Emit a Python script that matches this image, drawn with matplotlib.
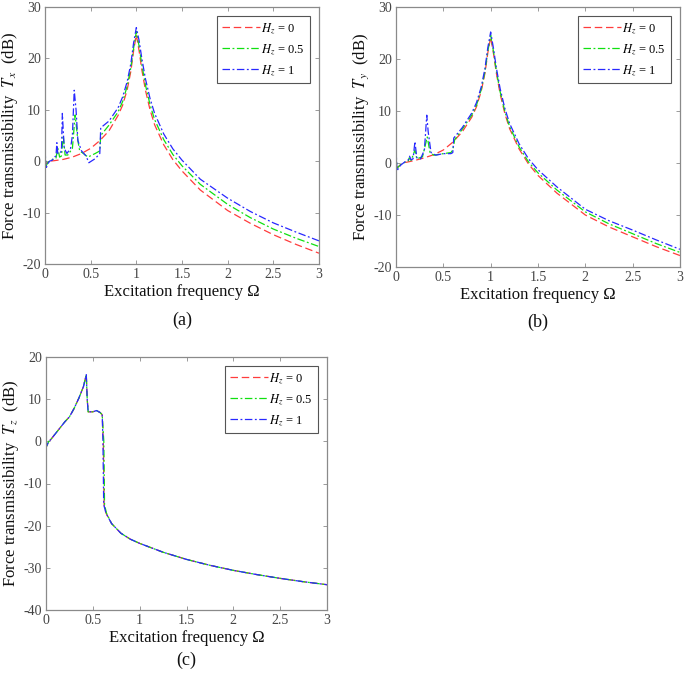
import matplotlib
matplotlib.use("Agg")
import matplotlib.pyplot as plt

plt.rcParams['font.family'] = ['Liberation Serif', 'DejaVu Serif']
plt.rcParams['mathtext.fontset'] = 'stix'

# ---------------- data: panel (a) Tx ----------------
ax_w0 = [0, 0.01, 0.05, 0.1, 0.2, 0.3, 0.4, 0.5, 0.6, 0.7, 0.8, 0.85, 0.9, 0.94, 0.97,
         1.0, 1.03, 1.06, 1.1, 1.15, 1.2, 1.3, 1.4, 1.5, 1.7, 2.0, 2.25, 2.5, 2.75, 3.0]
ax_h0 = [0.5, -0.5, 0.0, 0.1, 0.35, 0.8, 1.5, 2.5, 4.0, 5.9, 8.9, 10.9, 13.9, 17.5, 21.5,
         24.6, 21.5, 17.8, 13.8, 10.0, 7.1, 3.2, 0.3, -1.9, -5.6, -9.6, -12.1, -14.3, -16.2, -17.9]

ax_w05 = [0, 0.01, 0.03, 0.05, 0.1, 0.12, 0.14, 0.16, 0.18, 0.2, 0.22, 0.25, 0.3, 0.33, 0.36,
          0.38, 0.42, 0.47, 0.55, 0.6, 0.61, 0.7, 0.8, 0.85, 0.9, 0.94, 0.97, 1.0, 1.03, 1.06,
          1.1, 1.15, 1.2, 1.3, 1.4, 1.5, 1.7, 2.0, 2.25, 2.5, 2.75, 3.0]
ax_h05 = [2.0, -1.0, -0.3, 0.0, 0.5, 0.6, 2.5, 0.8, 1.0, 5.0, 1.2, 1.2, 2.5, 9.0, 4.0,
          2.0, 1.5, 0.8, 1.5, 2.0, 5.0, 7.0, 9.6, 11.6, 14.6, 18.2, 22.0, 25.2, 22.4, 18.8,
          14.8, 11.0, 8.1, 4.2, 1.3, -0.9, -4.5, -8.4, -11.0, -13.2, -15.0, -16.6]

ax_w1 = [0, 0.01, 0.03, 0.05, 0.08, 0.1, 0.12, 0.13, 0.14, 0.16, 0.18, 0.19, 0.21, 0.24, 0.28,
         0.3, 0.32, 0.34, 0.36, 0.4, 0.45, 0.48, 0.55, 0.6, 0.61, 0.7, 0.8, 0.85, 0.9, 0.94,
         0.97, 1.0, 1.03, 1.06, 1.1, 1.15, 1.2, 1.3, 1.4, 1.5, 1.7, 2.0, 2.25, 2.5, 2.75, 3.0]
ax_h1 = [3.0, -1.5, -0.5, 0.0, 0.2, 0.8, 1.0, 3.6, 1.5, 1.5, 2.0, 9.3, 2.5, 1.5, 2.5,
         5.0, 13.8, 10.0, 4.0, 2.0, 1.0, -0.3, 0.5, 1.5, 6.5, 7.8, 10.4, 12.5, 15.5, 19.0,
         23.0, 26.0, 23.5, 20.0, 16.0, 12.2, 9.3, 5.3, 2.4, 0.2, -3.5, -7.2, -9.8, -12.0, -13.8, -15.5]

# ---------------- data: panel (b) Ty ----------------
by_w0 = [0, 0.02, 0.05, 0.1, 0.2, 0.3, 0.4, 0.5, 0.6, 0.7, 0.8, 0.85, 0.9, 0.94, 0.97,
         1.0, 1.03, 1.06, 1.1, 1.15, 1.2, 1.3, 1.4, 1.5, 1.7, 2.0, 2.25, 2.5, 2.75, 3.0]
by_h0 = [-0.5, -0.8, -0.3, 0.1, 0.5, 1.0, 1.6, 2.5, 4.0, 6.0, 8.8, 10.8, 13.8, 17.3, 21.2,
         24.2, 21.0, 17.3, 13.3, 9.5, 6.6, 2.7, -0.2, -2.4, -5.8, -10.0, -12.3, -14.2, -16.1, -17.8]

by_w05 = [0, 0.01, 0.05, 0.1, 0.13, 0.14, 0.16, 0.2, 0.22, 0.28, 0.33, 0.36, 0.4, 0.5, 0.58,
          0.6, 0.62, 0.7, 0.8, 0.85, 0.9, 0.94, 0.97, 1.0, 1.03, 1.06, 1.1, 1.15, 1.2, 1.3,
          1.4, 1.5, 1.7, 2.0, 2.25, 2.5, 2.75, 3.0]
by_h05 = [2.0, -1.0, -0.3, 0.2, 0.4, 1.0, 0.5, 2.5, 0.8, 1.2, 5.0, 2.0, 1.5, 1.8, 2.0,
          2.5, 4.5, 6.5, 9.2, 11.1, 14.1, 17.6, 21.5, 24.6, 21.4, 17.7, 13.7, 9.9, 7.0, 3.1,
          0.2, -1.9, -5.2, -9.4, -11.7, -13.6, -15.5, -17.2]

by_w1 = [0, 0.01, 0.05, 0.1, 0.13, 0.143, 0.16, 0.18, 0.2, 0.22, 0.26, 0.3, 0.325, 0.34, 0.37,
         0.42, 0.5, 0.58, 0.6, 0.61, 0.7, 0.8, 0.85, 0.9, 0.94, 0.97, 1.0, 1.03, 1.06, 1.1,
         1.15, 1.2, 1.3, 1.4, 1.5, 1.7, 2.0, 2.25, 2.5, 2.75, 3.0]
by_h1 = [3.0, -1.5, -0.4, 0.3, 0.6, 1.3, 0.6, 0.8, 4.1, 1.0, 0.8, 2.5, 9.2, 6.0, 2.0,
         1.5, 1.8, 1.8, 2.0, 4.8, 6.8, 9.6, 11.6, 14.6, 18.2, 22.2, 25.2, 22.0, 18.3, 14.3,
         10.5, 7.6, 3.7, 0.8, -1.3, -4.6, -8.9, -11.1, -12.9, -14.8, -16.6]

# ---------------- data: panel (c) Tz ----------------
cz_w0 = [0, 0.005, 0.03, 0.05, 0.1, 0.15, 0.2, 0.25, 0.3, 0.35, 0.4, 0.43, 0.44, 0.45, 0.5,
         0.54, 0.58, 0.6, 0.612, 0.62, 0.64, 0.7, 0.8, 0.9, 1.0, 1.25, 1.5, 1.75, 2.0, 2.25,
         2.5, 2.75, 3.0]
cz_h0 = [2.5, -1.2, 0.0, 0.4, 1.8, 3.2, 4.6, 5.8, 7.8, 10.2, 13.0, 15.8, 10.0, 7.0, 7.0,
         7.3, 6.8, 6.3, 0.0, -15.0, -17.0, -19.5, -21.8, -23.2, -24.2, -26.3, -28.0, -29.4, -30.6, -31.6,
         -32.5, -33.3, -34.0]

cz_w05 = [0, 0.005, 0.03, 0.05, 0.1, 0.15, 0.2, 0.25, 0.3, 0.35, 0.4, 0.43, 0.44, 0.45, 0.5,
          0.54, 0.58, 0.6, 0.617, 0.625, 0.645, 0.7, 0.8, 0.9, 1.0, 1.25, 1.5, 1.75, 2.0, 2.25,
          2.5, 2.75, 3.0]
cz_h05 = [2.5, -1.2, 0.0, 0.4, 1.8, 3.2, 4.6, 5.8, 7.8, 10.2, 13.0, 15.8, 10.0, 7.0, 7.0,
          7.3, 6.8, 6.3, 0.0, -15.0, -17.0, -19.5, -21.8, -23.2, -24.2, -26.3, -28.0, -29.4, -30.6, -31.6,
          -32.5, -33.3, -34.0]

cz_w1 = [0, 0.005, 0.03, 0.05, 0.1, 0.15, 0.2, 0.25, 0.3, 0.35, 0.4, 0.43, 0.44, 0.45, 0.5,
         0.54, 0.58, 0.6, 0.608, 0.616, 0.64, 0.7, 0.8, 0.9, 1.0, 1.25, 1.5, 1.75, 2.0, 2.25,
         2.5, 2.75, 3.0]
cz_h1 = [3.0, -1.2, 0.0, 0.4, 1.8, 3.2, 4.6, 5.8, 7.8, 10.2, 13.0, 15.8, 10.0, 7.0, 7.0,
         7.3, 6.8, 6.3, 0.0, -15.0, -17.0, -19.5, -21.8, -23.2, -24.2, -26.3, -28.0, -29.4, -30.6, -31.6,
         -32.5, -33.3, -34.0]

legend_labels = [r'$H_z$ = 0', r'$H_z$ = 0.5', r'$H_z$ = 1']
x_ticks = [0, 0.5, 1, 1.5, 2, 2.5, 3]
x_ticklabels = ['0', '0.5', '1', '1.5', '2', '2.5', '3']
ylabels = [r'Force transmissibility  $T_x$  (dB)',
           r'Force transmissibility  $T_y$  (dB)',
           r'Force transmissibility  $T_z$  (dB)']
captions = ['(a)', '(b)', '(c)']

# ---------------- drawing ----------------
W, H = 685, 675
fig = plt.figure(figsize=(W / 100, H / 100), dpi=100)

def px_axes(l, r, t, b):
    return fig.add_axes([l / W, 1 - b / H, (r - l) / W, (b - t) / H])

axes_px = [(45, 319, 7, 264), (396, 680, 7, 267), (46, 327, 357, 610)]
ylims = [(-20, 30), (-20, 30), (-40, 20)]
yticks = [[-20, -10, 0, 10, 20, 30], [-20, -10, 0, 10, 20, 30], [-40, -30, -20, -10, 0, 10, 20]]
datasets = [
    [(ax_w0, ax_h0), (ax_w05, ax_h05), (ax_w1, ax_h1)],
    [(by_w0, by_h0), (by_w05, by_h05), (by_w1, by_h1)],
    [(cz_w0, cz_h0), (cz_w05, cz_h05), (cz_w1, cz_h1)],
]
cap_pos = [(182, 320), (538, 322), (186, 660)]

spine_col = '#8a8a8a'
tick_col = '#444444'
styles = [dict(color='#ff3c3c', linestyle=(0, (6, 3))),
          dict(color='#10e010', linestyle=(0, (6, 2, 1.5, 2))),
          dict(color='#2828ff', linestyle=(0, (6, 2, 1.5, 2)))]

for i in range(3):
    ax = px_axes(*axes_px[i])
    for (w, h), st in zip(datasets[i], styles):
        ax.plot(w, h, lw=0.9, **st)
    ax.set_xlim(0, 3)
    ax.set_ylim(*ylims[i])
    ax.set_xticks(x_ticks)
    ax.set_xticklabels(x_ticklabels)
    ax.set_yticks(yticks[i])
    ax.set_yticklabels([str(v) for v in yticks[i]])
    ax.tick_params(direction='in', length=3, width=0.6, top=True, right=True,
                   colors=spine_col, labelcolor=tick_col, labelsize=10, pad=3)
    for sp in ax.spines.values():
        sp.set_color(spine_col)
        sp.set_linewidth(0.9)
    ax.set_xlabel('Excitation frequency Ω', fontsize=12, color='#111111', labelpad=2)
    ax.set_ylabel(ylabels[i], fontsize=12, color='#111111', labelpad=2)
    leg = ax.legend(legend_labels, loc='upper right', fontsize=9, handlelength=3.0,
                    handletextpad=0.1, borderpad=0.4, labelspacing=0.5,
                    fancybox=False, framealpha=1, borderaxespad=0.75)
    leg.get_frame().set_edgecolor('#555555')
    leg.get_frame().set_linewidth(0.8)
    cx, cy = cap_pos[i]
    fig.text(cx / W, 1 - cy / H, captions[i], ha='center', va='center', fontsize=13, color='#111111')

fig.savefig('out.png', dpi=100)
